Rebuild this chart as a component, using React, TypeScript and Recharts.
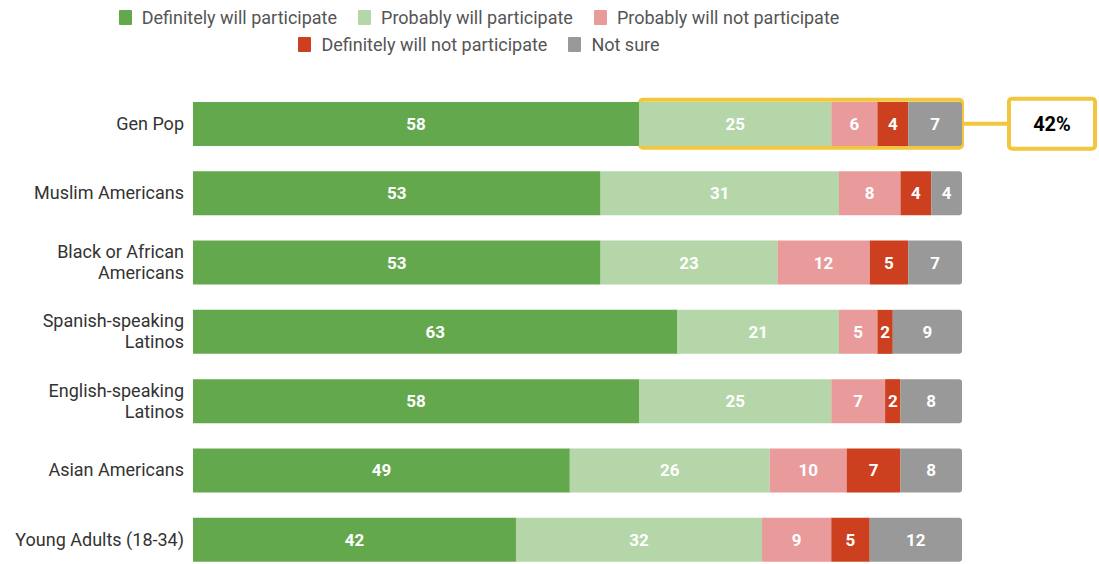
import { BarChart, Bar, XAxis, YAxis, LabelList, ReferenceArea } from 'recharts';

const categories = [
  'Gen Pop',
  'Muslim Americans',
  'Black or African Americans',
  'Spanish-speaking Latinos',
  'English-speaking Latinos',
  'Asian Americans',
  'Young Adults (18-34)',
];

// tick labels are wrapped by hand where the source wraps them
const tickLines: Record<string, string[]> = {
  'Black or African Americans': ['Black or African', 'Americans'],
  'Spanish-speaking Latinos': ['Spanish-speaking', 'Latinos'],
  'English-speaking Latinos': ['English-speaking', 'Latinos'],
};

const definitelyWill = [58, 53, 53, 63, 58, 49, 42];
const probablyWill = [25, 31, 23, 21, 25, 26, 32];
const probablyNot = [6, 8, 12, 5, 7, 10, 9];
const definitelyNot = [4, 4, 5, 2, 2, 7, 5];
const notSure = [7, 4, 7, 9, 8, 8, 12];

const series = [
  { key: 'definitelyWill', name: 'Definitely will participate', color: '#64a84e' },
  { key: 'probablyWill', name: 'Probably will participate', color: '#b4d6a8' },
  { key: 'probablyNot', name: 'Probably will not participate', color: '#e99a9a' },
  { key: 'definitelyNot', name: 'Definitely will not participate', color: '#cc401f' },
  { key: 'notSure', name: 'Not sure', color: '#999999' },
];

const data = categories.map((name, i) => ({
  name,
  definitelyWill: definitelyWill[i],
  probablyWill: probablyWill[i],
  probablyNot: probablyNot[i],
  definitelyNot: definitelyNot[i],
  notSure: notSure[i],
}));

const highlight = data[0];
const highlightStart = highlight.definitelyWill;
const highlightEnd = highlightStart + highlight.probablyWill + highlight.probablyNot + highlight.definitelyNot + highlight.notSure;
const highlightPct = highlightEnd - highlightStart;

const YELLOW = '#f4c63d';
const BAR = 44;

const CategoryTick = ({ x, y, payload }: any) => {
  const lines = tickLines[payload.value] || [payload.value];
  const lh = 21;
  const start = -((lines.length - 1) * lh) / 2;
  return (
    <text x={x - 1} y={y} textAnchor="end" fill="#333" fontSize={18} fontFamily="Roboto, sans-serif">
      {lines.map((l, i) => (
        <tspan key={i} x={x - 1} y={y + start + i * lh} dy="0.35em">{l}</tspan>
      ))}
    </text>
  );
};

const HighlightShape = ({ x, y, width, height }: any) => {
  const cy = y + height / 2;
  const right = x + width;
  return (
    <g>
      <rect x={x + 1} y={cy - BAR / 2 - 2} width={width - 1} height={BAR + 4} rx={3}
        fill="none" stroke={YELLOW} strokeWidth={4} />
      <line x1={right + 2} y1={cy} x2={right + 46} y2={cy} stroke={YELLOW} strokeWidth={4} />
      <rect x={right + 47} y={cy - 25} width={86} height={50} rx={3}
        fill="#fff" stroke={YELLOW} strokeWidth={4} />
      <text x={right + 90} y={cy} dy="0.35em" textAnchor="middle" fontSize={20} fontWeight="bold"
        fill="#000" fontFamily="Roboto, sans-serif">
        {highlightPct}%
      </text>
    </g>
  );
};

const LegendRow = ({ items }: { items: typeof series }) => (
  <div style={{ display: 'flex', justifyContent: 'center', gap: 21, height: 27, alignItems: 'center' }}>
    {items.map((s) => (
      <div key={s.key} style={{ display: 'flex', alignItems: 'center' }}>
        <span style={{ display: 'inline-block', width: 13, height: 15, background: s.color, marginRight: 10, borderRadius: 1 }} />
        <span style={{ fontSize: 18, color: '#555' }}>{s.name}</span>
      </div>
    ))}
  </div>
);

export default function App() {
  return (
    <div style={{ position: 'relative', width: 1099, height: 564, overflow: 'hidden', background: '#fff', fontFamily: 'Roboto, sans-serif' }}>
      <style>{'body{margin:0}'}</style>
      <div style={{ position: 'absolute', top: 4, left: 0, width: 958 }}>
        <LegendRow items={series.slice(0, 3)} />
        <LegendRow items={series.slice(3)} />
      </div>
      <BarChart
        width={1099}
        height={580}
        data={data}
        layout="vertical"
        barCategoryGap={0}
        margin={{ top: 89, right: 137, bottom: 6, left: 8 }}
      >
        <XAxis type="number" domain={[0, 100]} hide />
        <YAxis
          type="category"
          dataKey="name"
          width={185}
          axisLine={false}
          tickLine={false}
          tick={<CategoryTick />}
        />
        {series.map((s, i) => (
          <Bar
            key={s.key}
            dataKey={s.key}
            name={s.name}
            stackId="a"
            fill={s.color}
            barSize={BAR}
            radius={i === series.length - 1 ? [0, 3, 3, 0] : 0}
            isAnimationActive={false}
          >
            <LabelList
              dataKey={s.key}
              position="center"
              style={{ fill: '#fff', fontSize: 17, fontWeight: 'bold', fontFamily: 'Roboto, sans-serif' }}
            />
          </Bar>
        ))}
        <ReferenceArea
          x1={highlightStart}
          x2={highlightEnd}
          y1={highlight.name}
          y2={highlight.name}
          shape={<HighlightShape />}
          ifOverflow="visible"
        />
      </BarChart>
    </div>
  );
}
